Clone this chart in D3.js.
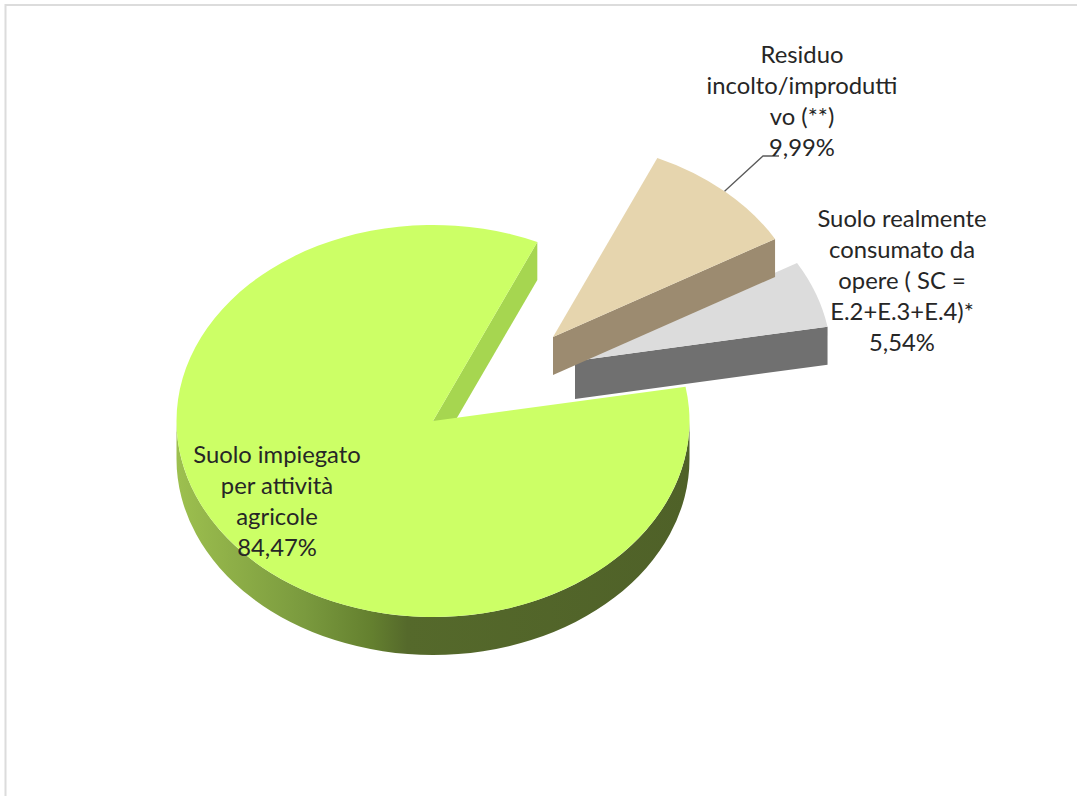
<!DOCTYPE html>
<html>
<head>
<meta charset="utf-8">
<script src="https://cdn.jsdelivr.net/npm/d3@7"></script>
<style>
  html, body { margin: 0; padding: 0; background: #fff; }
  svg { display: block; }
  text { font-family: Lato, "Open Sans", sans-serif; font-size: 23.8px; fill: #262626; text-anchor: middle; }
</style>
</head>
<body>
<svg id="chart" width="1077" height="796"></svg>
<script>
// Land use shares, in percent
const categories = [
  "Suolo impiegato per attività agricole",
  "Residuo incolto/improduttivo (**)",
  "Suolo realmente consumato da opere ( SC = E.2+E.3+E.4)*"
];
const shares = [84.47, 9.99, 5.54];
const percentLabels = ["84,47%", "9,99%", "5,54%"];
const labelLines = [
  ["Suolo impiegato", "per attività", "agricole"],
  ["Residuo", "incolto/improdutti", "vo (**)"],
  ["Suolo realmente", "consumato da", "opere ( SC =", "E.2+E.3+E.4)*"]
];
const topColors = ["#ccff66", "#e6d5ae", "#dcdcdc"];
const cutWallColors = ["#a6d650", "#9c8b70", "#707070"];

const width = 1077, height = 796;
const rx = 256.5, ry = 196, depth = 38;
const centre = { x: 433, y: 421 };
// Exploded slices are shifted away from the pie centre
const offsets = [[0, 0], [120, -84], [142, -60]];
const labelAnchors = [[277, 455], [802, 55], [902, 219]];
const lineGap = 31;

const svg = d3.select("#chart");

// Sheet frame along the top and left edges
svg.append("path")
  .attr("d", `M5.5 ${height} V5 H${width}`)
  .attr("fill", "none")
  .attr("stroke", "#dcdcdc")
  .attr("stroke-width", 2);

const defs = svg.append("defs");
const wallGradient = defs.append("linearGradient")
  .attr("id", "wallShade")
  .attr("gradientUnits", "userSpaceOnUse")
  .attr("x1", centre.x - rx).attr("x2", centre.x + rx)
  .attr("y1", 0).attr("y2", 0);
[[0, "#9dc04f"], [0.1, "#8fb048"], [0.25, "#7a9a3e"], [0.38, "#64802f"], [0.45, "#55692b"], [1, "#4f6128"]]
  .forEach(([o, c]) => wallGradient.append("stop").attr("offset", o).attr("stop-color", c));

// Slices run clockwise from 24 degrees past twelve o'clock
const order = [1, 2, 0];
const pie = d3.pie().sort((a, b) => order.indexOf(a.i) - order.indexOf(b.i)).value(d => d.v)
  .startAngle(24 * Math.PI / 180).endAngle(384 * Math.PI / 180);
const slices = pie(shares.map((v, i) => ({ v, i })));

const arc = d3.arc().innerRadius(0).outerRadius(rx);
const yScale = ry / rx;
const rim = (a, o, dy = 0) => [
  centre.x + o[0] + rx * Math.sin(a),
  centre.y + o[1] - ry * Math.cos(a) + dy
];

function drawSlice(s) {
  const i = s.data.i, o = offsets[i];
  const g = svg.append("g").attr("class", "slice");
  const apex = [centre.x + o[0], centre.y + o[1]];

  // Cut face that looks towards the viewer, along the slice's closing edge
  const edge = rim(s.endAngle, o);
  g.append("path")
    .attr("d", `M${apex} L${edge} v${depth} L${apex[0]} ${apex[1] + depth} Z`)
    .attr("fill", cutWallColors[i]);

  // Outer rim wall, visible only on the lower half of the ellipse
  const a0 = Math.max(s.startAngle, Math.PI / 2);
  const a1 = Math.min(s.endAngle, 3 * Math.PI / 2);
  if (a1 > a0) {
    const p0 = rim(a0, o), p1 = rim(a1, o);
    g.append("path")
      .attr("d", `M${p0} A${rx} ${ry} 0 0 1 ${p1} v${depth} A${rx} ${ry} 0 0 0 ${p0[0]} ${p0[1] + depth} Z`)
      .attr("fill", "url(#wallShade)");
  }

  // Top face
  g.append("path")
    .attr("transform", `translate(${apex}) scale(1,${yScale})`)
    .attr("d", arc(s))
    .attr("fill", topColors[i]);
}

// Paint back to front: the beige slice overlaps the grey one
[2, 0, 1].forEach(i => drawSlice(slices.find(s => s.data.i === i)));

// Leader line from the beige slice to its label
const beige = slices.find(s => s.data.i === 1);
svg.append("polyline")
  .attr("points", [rim((beige.startAngle + beige.endAngle) / 2, offsets[1]), [763, 156], [779, 156]].join(" "))
  .attr("fill", "none")
  .attr("stroke", "#5a5a5a")
  .attr("stroke-width", 1.3);

// Category and percentage labels
categories.forEach((name, i) => {
  const [x, y] = labelAnchors[i];
  const t = svg.append("text").attr("aria-label", name);
  labelLines[i].concat(percentLabels[i]).forEach((line, k) => {
    t.append("tspan").attr("x", x).attr("y", y + k * lineGap + 8).text(line);
  });
});
</script>
</body>
</html>
